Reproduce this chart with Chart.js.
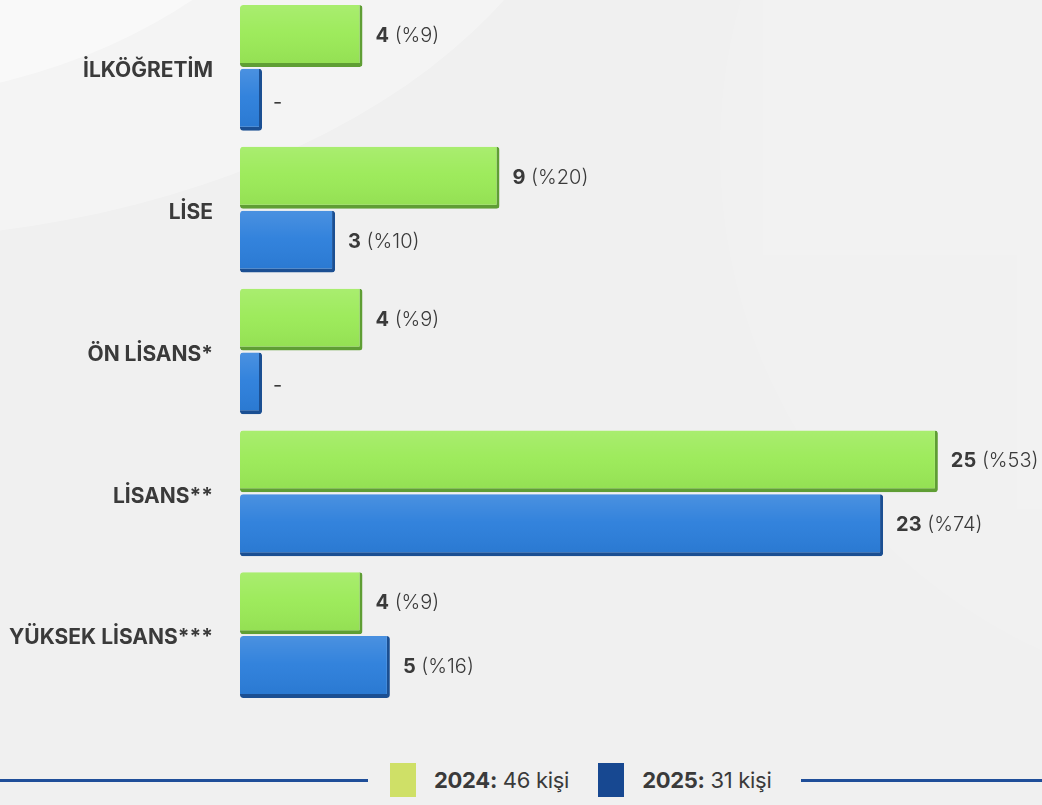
<!DOCTYPE html>
<html lang="tr">
<head>
<meta charset="utf-8">
<script src="https://cdn.jsdelivr.net/npm/chart.js@4/dist/chart.umd.min.js"></script>
<style>
  html, body { margin: 0; padding: 0; }
  body {
    width: 1042px; height: 805px; overflow: hidden; position: relative;
    background: #f0f0f0;
    font-family: Inter, "Noto Sans", sans-serif;
  }
  .swoosh1 {
    position: absolute; left: -700px; top: -820px; width: 1100px; height: 920px;
    border-radius: 50%; background: rgba(255,255,255,0.45);
  }
  .swoosh2 {
    position: absolute; left: -900px; top: -700px; width: 1500px; height: 940px;
    border-radius: 50%; background: rgba(255,255,255,0.3);
  }
  .swoosh3 {
    position: absolute; left: 720px; top: -400px; width: 1100px; height: 1100px;
    border-radius: 50%; background: rgba(255,255,255,0.12);
  }
  #wrap { position: absolute; left: 0; top: -3px; width: 1042px; height: 709px; }
  .legend {
    position: absolute; left: 0; top: 763px; width: 1042px; height: 34px;
    display: flex; align-items: center; color: #3a3a3a; font-size: 22px;
    letter-spacing: -0.3px;
  }
  .legend .line { height: 3px; background: #1f4e99; }
  .legend .sw { width: 26px; height: 34px; margin-right: 18px; }
  .legend .item { display: flex; align-items: center; }
  .legend b { font-weight: 700; }
  .legend span { font-weight: 400; }
</style>
</head>
<body>
<div class="swoosh2"></div>
<div class="swoosh1"></div>
<div class="swoosh3"></div>
<div id="wrap"><canvas id="chart" width="1042" height="709"></canvas></div>
<div class="legend" id="legend"></div>
<script>
// categories and values
const categories = ['İLKÖĞRETİM', 'LİSE', 'ÖN LİSANS*', 'LİSANS**', 'YÜKSEK LİSANS***'];
const values2024 = [4, 9, 4, 25, 4];
const values2025 = [0, 3, 0, 23, 5];
const percent2024 = ['%9', '%20', '%9', '%53', '%9'];
const percent2025 = [null, '%10', null, '%74', '%16'];
const years = ['2024', '2025'];

const textColor = '#3a3a3a';
const green = '#9aea56';
const greenEdge = '#5f9e34';
const blue = '#2b7edb';
const blueEdge = '#1b4f92';
// the 3D bars start a little left of the zero line
const axisStart = -0.47;

function total(arr) {
  return arr.reduce((a, b) => a + b, 0);
}

// glossy highlight over each bar to fake the 3D look
const shinePlugin = {
  id: 'shine',
  afterDatasetsDraw(chart) {
    const ctx = chart.ctx;
    chart.data.datasets.forEach((ds, di) => {
      chart.getDatasetMeta(di).data.forEach(bar => {
        const top = bar.y - bar.height / 2;
        const g = ctx.createLinearGradient(0, top, 0, top + bar.height);
        g.addColorStop(0, 'rgba(255,255,255,0.15)');
        g.addColorStop(0.45, 'rgba(255,255,255,0.04)');
        g.addColorStop(1, 'rgba(0,0,0,0.05)');
        ctx.save();
        ctx.fillStyle = g;
        ctx.fillRect(bar.base, top, bar.x - bar.base - 3, bar.height - 4);
        ctx.restore();
      });
    });
  }
};

// category names left of the bars
const categoryLabels = {
  id: 'categoryLabels',
  afterDraw(chart) {
    const ctx = chart.ctx;
    const y = chart.scales.y;
    ctx.save();
    ctx.fillStyle = textColor;
    ctx.font = '700 21px Inter, sans-serif';
    ctx.textAlign = 'right';
    ctx.textBaseline = 'middle';
    categories.forEach((c, i) => {
      ctx.fillText(c, 213, y.getPixelForValue(i) + 3);
    });
    ctx.restore();
  }
};

// "4 (%9)" style labels at bar ends
const valueLabels = {
  id: 'valueLabels',
  afterDatasetsDraw(chart) {
    const ctx = chart.ctx;
    chart.data.datasets.forEach((ds, di) => {
      const pcts = di === 0 ? percent2024 : percent2025;
      chart.getDatasetMeta(di).data.forEach((bar, i) => {
        const v = ds.data[i];
        const x = bar.x + 13;
        const y = bar.y;
        ctx.save();
        ctx.fillStyle = textColor;
        ctx.textBaseline = 'middle';
        ctx.textAlign = 'left';
        if (!v) {
          ctx.font = '400 20px Inter, sans-serif';
          ctx.fillText('-', x - 2, y + 3);
        } else {
          ctx.font = '700 20px Inter, sans-serif';
          const s = String(v);
          ctx.fillText(s, x, y);
          const w = ctx.measureText(s).width;
          ctx.font = '300 20px Inter, sans-serif';
          ctx.fillText(' (' + pcts[i] + ')', x + w, y);
        }
        ctx.restore();
      });
    });
  }
};

function barDataset(label, data, fill, edge) {
  return {
    label: label,
    data: data,
    base: axisStart,
    backgroundColor: fill,
    borderColor: edge,
    borderWidth: { top: 0, left: 0, right: 3, bottom: 4 },
    borderSkipped: false,
    borderRadius: 3,
    minBarLength: 22,
    categoryPercentage: 0.9,
    barPercentage: 0.97
  };
}

const chart = new Chart(document.getElementById('chart'), {
  type: 'bar',
  data: {
    labels: categories,
    datasets: [
      barDataset(years[0], values2024, green, greenEdge),
      barDataset(years[1], values2025, blue, blueEdge)
    ]
  },
  options: {
    indexAxis: 'y',
    responsive: false,
    animation: false,
    layout: { padding: { left: 0, right: 37, top: 0, bottom: 0 } },
    plugins: {
      legend: { display: false },
      tooltip: { enabled: false }
    },
    scales: {
      x: {
        min: axisStart,
        max: 27.45,
        display: false
      },
      y: {
        afterFit(scale) { scale.width = 240; },
        border: { display: false },
        grid: { display: false, drawTicks: false },
        ticks: { display: false }
      }
    }
  },
  plugins: [shinePlugin, valueLabels, categoryLabels]
});

// legend with the line on both sides, totals from the arrays
const legend = document.getElementById('legend');
legend.innerHTML =
  '<div class="line" style="width:368px;margin-right:22px"></div>' +
  '<div class="item" style="margin-right:29px"><div class="sw" style="background:#cfe067"></div><span><b>' +
  years[0] + ':</b> ' + total(values2024) + ' kişi</span></div>' +
  '<div class="item"><div class="sw" style="background:#174891"></div><span><b>' +
  years[1] + ':</b> ' + total(values2025) + ' kişi</span></div>' +
  '<div class="line" style="flex:1;margin-left:30px"></div>';
</script>
</body>
</html>
